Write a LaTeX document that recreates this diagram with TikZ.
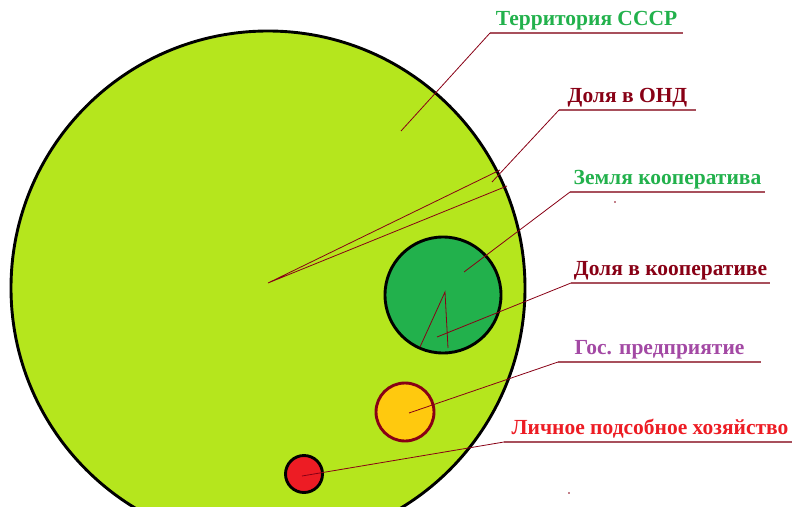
\documentclass[tikz,border=0pt]{standalone}
\usepackage{fontspec}
\setmainfont{Liberation Serif}
\usepackage{tikz}
\definecolor{limeFill}  {HTML}{B5E61D}
\definecolor{coopGreen} {HTML}{22B14C}
\definecolor{goldFill}  {HTML}{FFC90E}
\definecolor{plotRed}   {HTML}{ED1C24}
\definecolor{darkRed}   {HTML}{880015}
\definecolor{plumText}  {HTML}{A349A4}
\definecolor{leaderRed} {HTML}{A8505C}
\tikzset{
  area/.style={circle, draw=black, line width=2.9pt, inner sep=0pt},
  leader/.style={draw=darkRed, line width=0.8pt},
  underline/.style={draw=leaderRed, line width=1.4pt},
  labeltext/.style={font=\fontsize{21.5}{25}\selectfont\bfseries, inner sep=0pt, anchor=base}
}
\newcommand{\callout}[6]{%
  \coordinate (#1-l) at (#4,#6);
  \coordinate (#1-r) at (#5,#6);
  \draw[underline] (#1-l) -- (#1-r);
  \node[labeltext, text=#2] (#1) at ({(#4+#5)/2},#6-8) {#3};%
}

\begin{document}
\begin{tikzpicture}[x=1pt, y=-1pt]
\useasboundingbox (0,0) rectangle (792,506);
\clip (0,0) rectangle (792,506);

% --- AREAS ---
\node[area, fill=limeFill,  minimum size=514pt] (ussr)  at (268,288) {};
\node[area, fill=coopGreen, minimum size=116pt] (coop)  at (443,295) {};
\node[area, fill=goldFill, draw=darkRed, minimum size=58pt] (state) at (405,412) {};
\node[area, fill=plotRed,   minimum size=37pt]  (plot)  at (304,474) {};

% --- LABELS ---
\callout{terr}{coopGreen}{Территория СССР}          {490}{683}{33}
\callout{ond} {darkRed}  {Доля в ОНД}               {559}{696}{110}
\callout{zem} {coopGreen}{Земля кооператива}        {570}{765}{192}
\callout{koop}{darkRed}  {Доля в кооперативе}       {571}{770}{283}
\callout{gos} {plumText} {Гос. предприятие}         {558}{761}{362}
\callout{lph} {plotRed}  {Личное подсобное хозяйство}{504}{796}{442}

% --- LEADER ENDS ---
\coordinate (terrEnd)  at (401,131);
\coordinate (ondEnd)   at (492,182);
\coordinate (ondApex)  at (268,283);
\coordinate (ondA)     at (500,170);
\coordinate (ondB)     at (507,186);
\coordinate (zemEnd)   at (464,272);
\coordinate (koopEnd)  at (437,337);
\coordinate (koopApex) at (445,292);
\coordinate (koopA)    at (420,347);
\coordinate (koopB)    at (448,348);
\coordinate (gosEnd)   at (409,413);
\coordinate (lphEnd)   at (302,476);

% --- LEADERS ---
\draw[leader] (terr-l) -- (terrEnd);
\draw[leader] (ond-l)  -- (ondEnd);
\draw[leader] (ondA) -- (ondApex) -- (ondB);
\draw[leader] (zem-l)  -- (zemEnd);
\draw[leader] (koop-l) -- (koopEnd);
\draw[leader] (koopA) -- (koopApex) -- (koopB);
\draw[leader] (gos-l)  -- (gosEnd);
\draw[leader] (lph-l)  -- (lphEnd);

% stray specks
\fill[darkRed] (615,202) circle (0.8);
\fill[darkRed] (569,493) circle (0.8);

\end{tikzpicture}
\end{document}
